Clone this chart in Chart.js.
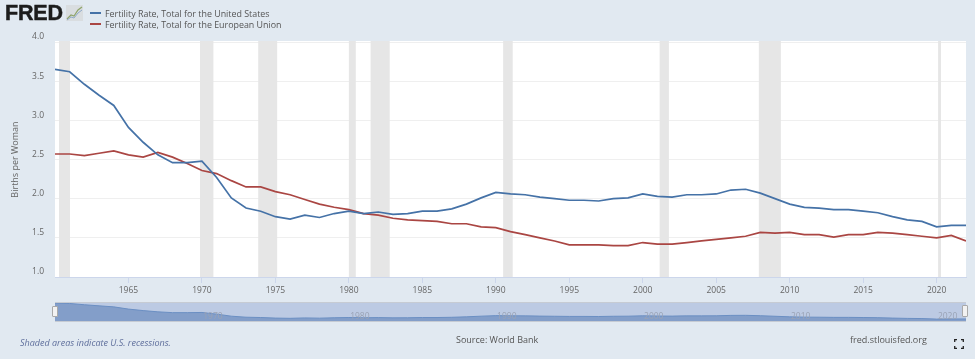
<!DOCTYPE html>
<html>
  <head>
    <meta charset="UTF-8">
    <title>FRED Fertility Rate</title>
    <script src="https://cdn.jsdelivr.net/npm/chart.js@4"></script>
    <style>
      html, body { margin: 0; padding: 0; }
      body { width: 975px; height: 359px; background: #e1e9f1; position: relative; overflow: hidden; font-family: "Open Sans", sans-serif; }
      canvas { position: absolute; }
      .txt { position: absolute; white-space: nowrap; }
      #logo { left: 5px; top: 1px; font: bold 21.5px "Liberation Sans", sans-serif; letter-spacing: -0.2px; color: #1c1c1c; -webkit-text-stroke: 0.5px #1c1c1c; }
      .legend-text { left: 105px; font-size: 8.9px; color: #555; }
      .swatch { position: absolute; left: 90px; width: 11px; height: 2px; }
      #navBox { position: absolute; left: 55px; top: 302px; width: 911px; height: 20px; box-sizing: border-box; border-top: 1px solid #c6cbd3; border-bottom: 1px solid #c6cbd3; }
      .handle { position: absolute; width: 6px; box-sizing: border-box; background: #f2f2f2; border: 1px solid #a9a9a9; border-radius: 1px; }
    </style>
  </head>
  <body>
    <canvas id="mainChart" width="975" height="359" style="left:0;top:0"></canvas>
    <div id="navBox"></div>
    <canvas id="navChart" width="911" height="18" style="left:55px;top:303px"></canvas>
    <div class="handle" style="left:52px;top:306px;height:11px"></div>
    <div class="handle" style="left:962px;top:305px;height:12px"></div>

    <div id="logo" class="txt">FRED</div>
    <svg style="position:absolute;left:66px;top:5px" width="17" height="16" viewBox="0 0 17 16">
      <rect width="17" height="16" fill="#d9dde0"/>
      <polyline points="1,14 5,10 8,11 12,5 16,2" fill="none" stroke="#8fa46a" stroke-width="1.2"/>
      <polyline points="1,15 5,12 8,13 12,8 16,5" fill="none" stroke="#8fa9c9" stroke-width="1"/>
    </svg>
    <div class="swatch" style="top:12px;background:#4572a7"></div>
    <div class="swatch" style="top:23px;background:#aa4643"></div>
    <div class="txt legend-text" style="top:7px">Fertility Rate, Total for the United States</div>
    <div class="txt legend-text" style="top:18px">Fertility Rate, Total for the European Union</div>

    <div class="txt" style="left:20px;top:336px;font-size:9px;font-style:italic;color:#5f6f9c">Shaded areas indicate U.S. recessions.</div>
    <div class="txt" style="left:456px;top:333px;font-size:9px;color:#555">Source: World Bank</div>
    <div class="txt" style="left:850px;top:333px;font-size:9px;color:#555">fred.stlouisfed.org</div>
    <svg style="position:absolute;left:954px;top:339px" width="10" height="10" viewBox="0 0 10 10">
      <path d="M0.7 3V0.7H3M7 0.7H9.3V3M0.7 7V9.3H3M7 9.3H9.3V7" fill="none" stroke="#222" stroke-width="1.3"/>
    </svg>

    <script type="text/javascript">
      const years = [1960,1961,1962,1963,1964,1965,1966,1967,1968,1969,1970,1971,1972,1973,1974,1975,1976,1977,1978,1979,1980,1981,1982,1983,1984,1985,1986,1987,1988,1989,1990,1991,1992,1993,1994,1995,1996,1997,1998,1999,2000,2001,2002,2003,2004,2005,2006,2007,2008,2009,2010,2011,2012,2013,2014,2015,2016,2017,2018,2019,2020,2021,2022];
      const usValues = [3.65,3.62,3.46,3.32,3.19,2.91,2.72,2.56,2.46,2.46,2.48,2.27,2.01,1.88,1.84,1.77,1.74,1.79,1.76,1.81,1.84,1.81,1.83,1.80,1.81,1.84,1.84,1.87,1.93,2.01,2.08,2.06,2.05,2.02,2.00,1.98,1.98,1.97,2.00,2.01,2.06,2.03,2.02,2.05,2.05,2.06,2.11,2.12,2.07,2.00,1.93,1.89,1.88,1.86,1.86,1.84,1.82,1.77,1.73,1.71,1.64,1.66,1.66];
      const euValues = [2.57,2.57,2.55,2.58,2.61,2.56,2.53,2.59,2.53,2.45,2.36,2.32,2.23,2.15,2.15,2.09,2.05,1.99,1.93,1.89,1.86,1.81,1.79,1.75,1.73,1.72,1.71,1.68,1.68,1.64,1.63,1.58,1.54,1.50,1.46,1.41,1.41,1.41,1.40,1.40,1.44,1.42,1.42,1.44,1.46,1.48,1.50,1.52,1.57,1.56,1.57,1.54,1.54,1.51,1.54,1.54,1.57,1.56,1.54,1.52,1.50,1.53,1.46];
      const recessionStarts = [1960.27,1969.87,1973.83,1980.0,1981.48,1990.5,2001.15,2007.9,2020.1];
      const recessionEnds = [1961.02,1970.78,1975.12,1980.47,1982.78,1991.15,2001.78,2009.4,2020.3];
      const yTicks = [1,1.5,2,2.5,3,3.5,4];
      const xTicks = [1965,1970,1975,1980,1985,1990,1995,2000,2005,2010,2015,2020];
      const navTicks = [1970,1980,1990,2000,2010,2020];

      function toPoints(values) {
        return values.map((v, i) => ({ x: years[i], y: v }));
      }

      const plotBackground = {
        id: 'plotBackground',
        beforeDraw(chart) {
          const a = chart.chartArea;
          chart.ctx.fillStyle = '#fff';
          chart.ctx.fillRect(a.left, a.top - 1, a.width, a.height + 1);
        }
      };

      const recessionBands = {
        id: 'recessionBands',
        beforeDatasetsDraw(chart) {
          const a = chart.chartArea;
          const x = chart.scales.x;
          chart.ctx.fillStyle = '#e6e6e6';
          recessionStarts.forEach((start, i) => {
            const x0 = x.getPixelForValue(start);
            const x1 = x.getPixelForValue(recessionEnds[i]);
            chart.ctx.fillRect(x0, a.top - 1, x1 - x0, a.height + 1);
          });
        }
      };

      new Chart(document.getElementById('mainChart'), {
        type: 'line',
        data: {
          datasets: [
            { label: 'Fertility Rate, Total for the United States', data: toPoints(usValues), borderColor: '#4572a7', borderWidth: 1.7, pointRadius: 0, tension: 0 },
            { label: 'Fertility Rate, Total for the European Union', data: toPoints(euValues), borderColor: '#aa4643', borderWidth: 1.7, pointRadius: 0, tension: 0 }
          ]
        },
        options: {
          responsive: false,
          animation: false,
          layout: { padding: { top: 42, right: 9, left: 0, bottom: 0 } },
          plugins: { legend: { display: false }, tooltip: { enabled: false } },
          scales: {
            x: {
              type: 'linear',
              min: 1960,
              max: 2022,
              afterFit(axis) { axis.height = 82; },
              afterBuildTicks(axis) { axis.ticks = xTicks.map(v => ({ value: v })); },
              grid: { drawOnChartArea: false, drawTicks: true, tickColor: '#ccd6eb', tickLength: 6 },
              border: { color: '#ccd6eb' },
              ticks: { padding: 2, maxRotation: 0, autoSkip: false, color: '#666', font: { family: 'Open Sans', size: 8.5 }, callback: v => String(v) }
            },
            y: {
              min: 1,
              max: 4,
              afterFit(axis) { axis.width = 55; },
              afterBuildTicks(axis) { axis.ticks = yTicks.map(v => ({ value: v })); },
              grid: { color: '#efefef', drawTicks: false },
              border: { display: false },
              title: { display: true, text: 'Births per Woman', color: '#666', font: { family: 'Open Sans', size: 9 }, padding: { top: 10, bottom: 0 } },
              ticks: { padding: 11, labelOffset: -5, color: '#666', font: { family: 'Open Sans', size: 8.5 }, callback: v => v.toFixed(1) }
            }
          }
        },
        plugins: [plotBackground, recessionBands]
      });

      new Chart(document.getElementById('navChart'), {
        type: 'line',
        data: {
          datasets: [
            { data: toPoints(usValues), borderColor: '#6b8fc3', borderWidth: 1, backgroundColor: '#839ec9', fill: 'start', pointRadius: 0, tension: 0 }
          ]
        },
        options: {
          responsive: false,
          animation: false,
          layout: { padding: 0 },
          plugins: {
            legend: { display: false },
            tooltip: { enabled: false }
          },
          scales: {
            x: {
              type: 'linear',
              min: 1960,
              max: 2022,
              afterFit(axis) { axis.height = 0; },
              afterBuildTicks(axis) { axis.ticks = navTicks.map(v => ({ value: v })); },
              grid: { display: false, drawTicks: false },
              border: { display: false },
              ticks: { z: 1, mirror: true, padding: -1, labelOffset: 11, maxRotation: 0, autoSkip: false, color: '#9aa3b5', font: { family: 'Open Sans', size: 8.5 }, callback: v => String(v) }
            },
            y: { display: false, min: 1.4, max: 3.68 }
          }
        },
        plugins: [{
          id: 'navMask',
          beforeDraw(chart) {
            chart.ctx.fillStyle = '#bccae3';
            chart.ctx.fillRect(0, 0, chart.width, chart.height);
          }
        }]
      });
    </script>
  </body>
</html>
